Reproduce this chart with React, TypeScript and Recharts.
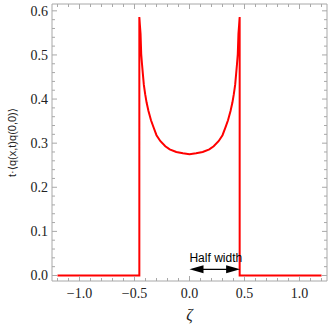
import { LineChart, Line, XAxis, YAxis, ReferenceLine } from 'recharts';

// curve: zero outside the light cone, U-shape inside
const zeta = [
  -1.2, -0.456, -0.456, -0.451, -0.445, -0.439, -0.432, -0.424, -0.415, -0.403, -0.39, -0.373, -0.35,
  -0.327, -0.3, -0.266, -0.22, -0.18, -0.12, -0.06,
  0, 0.06, 0.12, 0.18, 0.22, 0.266, 0.3, 0.327, 0.35, 0.373, 0.39, 0.403, 0.415, 0.424, 0.432, 0.439,
  0.445, 0.451, 0.456, 0.456, 1.2,
];
const corr = [
  0, 0, 0.586, 0.568, 0.548, 0.502, 0.48, 0.457, 0.432, 0.411, 0.392, 0.373, 0.352,
  0.336, 0.318, 0.305, 0.293, 0.286, 0.28, 0.277,
  0.275, 0.277, 0.28, 0.286, 0.293, 0.305, 0.318, 0.336, 0.352, 0.373, 0.392, 0.411, 0.432, 0.457, 0.48, 0.502,
  0.548, 0.568, 0.586, 0, 0,
];

const xTicks = [
  -1.2, -1.1, -1.0, -0.9, -0.8, -0.7, -0.6, -0.5, -0.4, -0.3, -0.2, -0.1, 0,
  0.1, 0.2, 0.3, 0.4, 0.5, 0.6, 0.7, 0.8, 0.9, 1.0, 1.1, 1.2,
];
const yTicks = [
  0, 0.02, 0.04, 0.06, 0.08, 0.1, 0.12, 0.14, 0.16, 0.18, 0.2, 0.22, 0.24, 0.26, 0.28, 0.3,
  0.32, 0.34, 0.36, 0.38, 0.4, 0.42, 0.44, 0.46, 0.48, 0.5, 0.52, 0.54, 0.56, 0.58, 0.6,
];

// "Half width" arrow: from ζ=0 to the edge, just above zero
const halfWidth = 0.46;
const arrowLevel = 0.014;

const data = zeta.map((z, i) => ({ z, v: corr[i] }));

const FRAME = '#a8a8a8';
const SERIF = '"Liberation Serif", "DejaVu Serif", serif';
const SANS = '"Liberation Sans", "DejaVu Sans", sans-serif';

const isMajorX = (v: number) => Math.abs(v * 2 - Math.round(v * 2)) < 1e-6;
const isMajorY = (v: number) => Math.abs(v * 10 - Math.round(v * 10)) < 1e-6;
const fmt = (v: number) => v.toFixed(1).replace('-', '\u2212');

const BottomTick = ({ x, y, payload }: any) => {
  const major = isMajorX(payload.value);
  return (
    <g>
      <line x1={x} x2={x} y1={y} y2={y - (major ? 5 : 3)} stroke={FRAME} />
      {major && (
        <text x={x} y={y + 17} textAnchor="middle" fontFamily={SERIF} fontSize={14} fill="#222">
          {fmt(payload.value)}
        </text>
      )}
    </g>
  );
};

const TopTick = ({ x, y, payload }: any) => {
  const major = isMajorX(payload.value);
  return <line x1={x} x2={x} y1={y} y2={y + (major ? 5 : 3)} stroke={FRAME} />;
};

const LeftTick = ({ x, y, payload }: any) => {
  const major = isMajorY(payload.value);
  return (
    <g>
      <line x1={x} x2={x + (major ? 5 : 3)} y1={y} y2={y} stroke={FRAME} />
      {major && (
        <text x={x - 4} y={y + 5} textAnchor="end" fontFamily={SERIF} fontSize={14} fill="#222">
          {payload.value.toFixed(1)}
        </text>
      )}
    </g>
  );
};

const RightTick = ({ x, y, payload }: any) => {
  const major = isMajorY(payload.value);
  return <line x1={x} x2={x - (major ? 5 : 3)} y1={y} y2={y} stroke={FRAME} />;
};

const HalfWidthArrow = (props: any) => {
  const { x1, x2, y1 } = props;
  const len = 14;
  const h = 4;
  return (
    <g>
      <line x1={x1 + 6} x2={x2 - 6} y1={y1} y2={y1} stroke="#000" strokeWidth={1.2} />
      <polygon points={`${x1},${y1} ${x1 + len},${y1 - h} ${x1 + len},${y1 + h}`} fill="#000" />
      <polygon points={`${x2},${y1} ${x2 - len},${y1 - h} ${x2 - len},${y1 + h}`} fill="#000" />
      <text
        x={(x1 + x2) / 2 + 1}
        y={y1 - 7}
        textAnchor="middle"
        fontFamily={SANS}
        fontSize={12}
        fill="#000"
      >
        Half width
      </text>
    </g>
  );
};

export default function App() {
  return (
    <div style={{ position: 'absolute', left: 0, top: 0, background: '#fff' }}>
      <LineChart width={330} height={327} data={data} margin={{ top: 0, right: 0, bottom: 0, left: 0 }}>
        <XAxis
          dataKey="z"
          type="number"
          domain={[-1.25, 1.25]}
          ticks={xTicks}
          interval={0}
          allowDataOverflow
          height={46}
          tickSize={0}
          tickMargin={0}
          tickLine={false}
          axisLine={{ stroke: FRAME }}
          tick={BottomTick}
          label={{
            content: ({ viewBox }: any) => (
              <text
                x={viewBox.x + viewBox.width / 2}
                y={viewBox.y + 39}
                textAnchor="middle"
                fontFamily={SERIF}
                fontStyle="italic"
                fontSize={16}
                fill="#222"
              >
                ζ
              </text>
            ),
          }}
        />
        <XAxis
          xAxisId="top"
          orientation="top"
          dataKey="z"
          type="number"
          domain={[-1.25, 1.25]}
          ticks={xTicks}
          interval={0}
          allowDataOverflow
          height={4}
          tickSize={0}
          tickMargin={0}
          tickLine={false}
          axisLine={{ stroke: FRAME }}
          tick={TopTick}
        />
        <YAxis
          type="number"
          domain={[-0.0125, 0.6155]}
          ticks={yTicks}
          interval={0}
          allowDataOverflow
          width={52}
          tickSize={0}
          tickMargin={0}
          tickLine={false}
          axisLine={{ stroke: FRAME }}
          tick={LeftTick}
          label={{
            content: ({ viewBox }: any) => {
              const cx = viewBox.x + 12;
              const cy = viewBox.y + viewBox.height / 2;
              return (
                <text
                  x={cx}
                  y={cy}
                  transform={`rotate(-90 ${cx} ${cy})`}
                  textAnchor="middle"
                  dominantBaseline="central"
                  fontFamily={SANS}
                  fontSize={11}
                  fill="#222"
                >
                  t·⟨q(x,t)q(0,0)⟩
                </text>
              );
            },
          }}
        />
        <YAxis
          yAxisId="right"
          orientation="right"
          type="number"
          domain={[-0.0125, 0.6155]}
          ticks={yTicks}
          interval={0}
          allowDataOverflow
          width={3}
          tickSize={0}
          tickMargin={0}
          tickLine={false}
          axisLine={{ stroke: FRAME }}
          tick={RightTick}
        />
        <Line
          type="linear"
          dataKey="v"
          stroke="#ff0000"
          strokeWidth={2}
          dot={false}
          isAnimationActive={false}
        />
        <ReferenceLine
          segment={[
            { x: 0, y: arrowLevel },
            { x: halfWidth, y: arrowLevel },
          ]}
          shape={HalfWidthArrow}
        />
      </LineChart>
    </div>
  );
}
